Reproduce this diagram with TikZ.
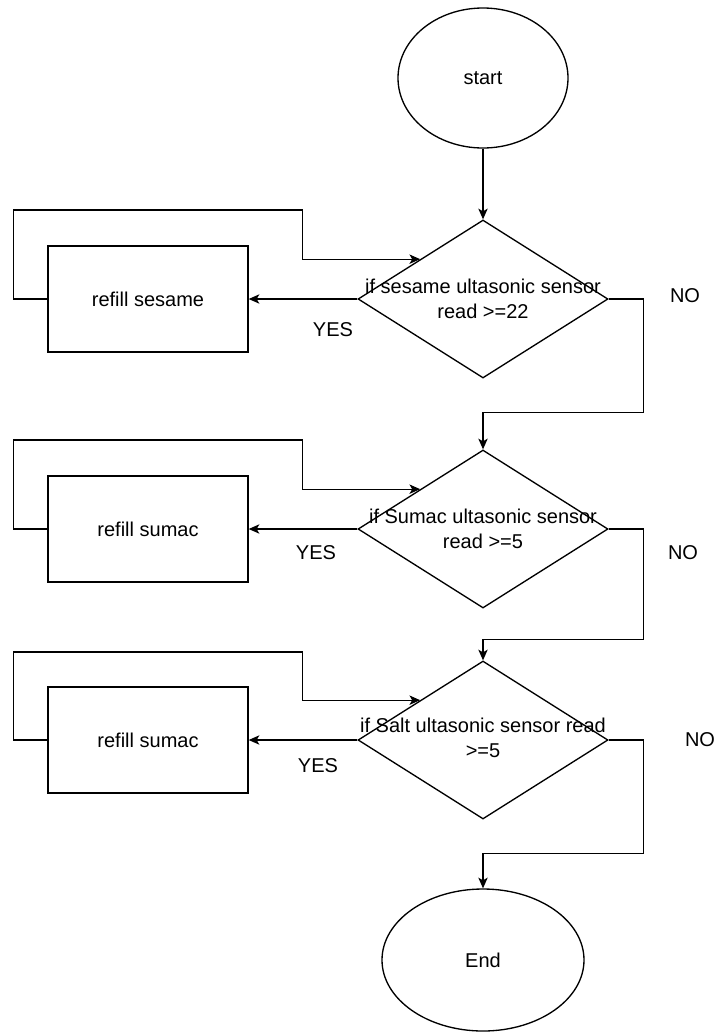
\documentclass[tikz,border=0pt]{standalone}
\usepackage{fontspec}
\setmainfont{Liberation Sans}
\usetikzlibrary{shapes.geometric,arrows.meta}

\begin{document}
\begin{tikzpicture}[x=0.75pt, y=-0.75pt, line width=1pt,
	font=\fontsize{15}{18.75}\selectfont,
	oval/.style={ellipse, draw, inner sep=0pt},
	raute/.style={diamond, draw, minimum width=187.5pt, minimum height=118.5pt, inner sep=0pt},
	kasten/.style={rectangle, draw, minimum width=150pt, minimum height=79.5pt, inner sep=0pt},
	pfeil/.style={-{Stealth[length=8pt, width=7pt, inset=2pt]}}]
		\useasboundingbox (0,0) rectangle (717,1032);
		
		%Start und Ende
		\node[oval, minimum width=127.5pt, minimum height=105pt] (start) at (483,78) {start};
		\node[oval, minimum width=151.5pt, minimum height=106.5pt] (end) at (483,960) {End};
		
		%Rauten
		\node[raute] (d1) at (483,299) {};
		\node[raute] (d2) at (483,529) {};
		\node[raute] (d3) at (483,740) {};
		\node[align=center] (t1) at (483,299) {if sesame ultasonic sensor\\read >=22};
		\node[align=center] (t2) at (483,529) {if Sumac ultasonic sensor\\read >=5};
		\node[align=center] (t3) at (483,738) {if Salt ultasonic sensor read\\>=5};
		
		%Kaesten
		\node[kasten] (b1) at (148,299) {refill sesame};
		\node[kasten] (b2) at (148,529) {refill sumac};
		\node[kasten] (b3) at (148,740) {refill sumac};
		
		%Beschriftung
		\node (yes1) at (333,330) {YES};
		\node (yes2) at (316,553) {YES};
		\node (yes3) at (318,766) {YES};
		\node (no1) at (685,296) {NO};
		\node (no2) at (683,553) {NO};
		\node (no3) at (700,740) {NO};
		
		%YES Pfeile
		\draw[pfeil] (d1.west) -- (b1.east);
		\draw[pfeil] (d2.west) -- (b2.east);
		\draw[pfeil] (d3.west) -- (b3.east);
		
		%Schleifen zurueck
		\draw[pfeil] (b1.west) -- ++(-34,0) |- ++(289,-89) |- (d1.north west);
		\draw[pfeil] (b2.west) -- ++(-34,0) |- ++(289,-89) |- (d2.north west);
		\draw[pfeil] (b3.west) -- ++(-34,0) |- ++(289,-88) |- (d3.north west);
		
		%NO Pfeile
		\draw[pfeil] (start) -- (d1.north);
		\draw[pfeil] (d1.east) -- ++(35,0) |- ([yshift=27.75pt]d2.north) -- (d2.north);
		\draw[pfeil] (d2.east) -- ++(35,0) |- ([yshift=15.75pt]d3.north) -- (d3.north);
		\draw[pfeil] (d3.east) -- ++(35,0) |- ([yshift=26.25pt]end.north) -- (end.north);
		
\end{tikzpicture}
\end{document}
